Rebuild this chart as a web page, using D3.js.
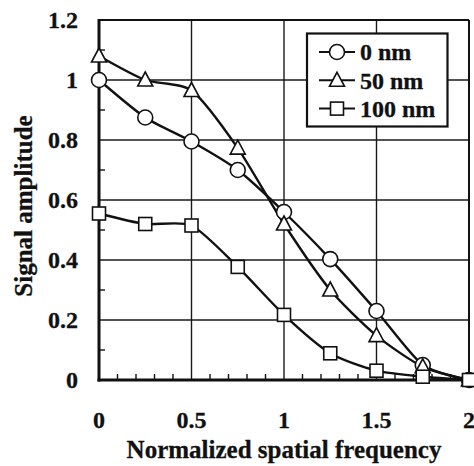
<!DOCTYPE html>
<html>
<head>
<meta charset="utf-8">
<script src="https://cdn.jsdelivr.net/npm/d3@7"></script>
<style>
  body { margin: 0; background: #fff; }
  svg { display: block; }
  text { font-family: "Liberation Serif", "Times New Roman", serif; font-weight: bold; fill: #111; stroke: #111; stroke-width: 0.3; }
</style>
</head>
<body>
<div id="chart"></div>
<script>
const width = 474;
const height = 466;

// spatial frequency (normalized)
const freqs = [0, 0.25, 0.5, 0.75, 1, 1.25, 1.5, 1.75, 2];
// signal amplitude for each thickness
const amp0 = [1.0, 0.875, 0.795, 0.70, 0.56, 0.403, 0.23, 0.05, 0.0];
const amp50 = [1.08, 1.0, 0.965, 0.773, 0.52, 0.30, 0.148, 0.044, 0.0];
const amp100 = [0.555, 0.52, 0.515, 0.377, 0.217, 0.089, 0.031, 0.011, 0.0];
const seriesNames = ["0 nm", "50 nm", "100 nm"];
const seriesShapes = ["circle", "triangle", "square"];
const xTickLabels = ["0", "0.5", "1", "1.5", "2"];
const yTickLabels = ["0", "0.2", "0.4", "0.6", "0.8", "1", "1.2"];

const series = [amp0, amp50, amp100].map((vals, i) => ({
  name: seriesNames[i],
  shape: seriesShapes[i],
  points: vals.map((v, j) => ({ x: freqs[j], y: v }))
}));

const margin = { top: 20, right: 5, bottom: 86, left: 99 };

const x = d3.scaleLinear().domain([0, 2]).range([margin.left, width - margin.right]);
const y = d3.scaleLinear().domain([0, 1.2]).range([height - margin.bottom, margin.top]);

const svg = d3.select("#chart").append("svg")
  .attr("width", width)
  .attr("height", height);

svg.append("rect").attr("width", width).attr("height", height).attr("fill", "#fff");

// grid
const grid = svg.append("g").attr("stroke", "#1a1a1a").attr("stroke-width", 1.4);
xTickLabels.map(Number).filter(d => d > 0 && d < 2).forEach(d => {
  grid.append("line")
    .attr("x1", x(d)).attr("x2", x(d))
    .attr("y1", y(0)).attr("y2", y(1.2));
});
yTickLabels.map(Number).filter(d => d > 0 && d < 1.2).forEach(d => {
  grid.append("line")
    .attr("x1", x(0)).attr("x2", x(2))
    .attr("y1", y(d)).attr("y2", y(d));
});

// minor ticks
const minor = svg.append("g").attr("stroke", "#111").attr("stroke-width", 1.4);
d3.range(1, 20).filter(i => i % 5 != 0).forEach(i => {
  minor.append("line")
    .attr("x1", x(i / 10)).attr("x2", x(i / 10))
    .attr("y1", y(0)).attr("y2", y(0) - 6);
});
d3.range(1, 12, 2).forEach(i => {
  minor.append("line")
    .attr("x1", x(0)).attr("x2", x(0) + 6)
    .attr("y1", y(i / 10)).attr("y2", y(i / 10));
});

// frame
svg.append("line").attr("x1", x(0)).attr("x2", x(2)).attr("y1", y(1.2)).attr("y2", y(1.2))
  .attr("stroke", "#111").attr("stroke-width", 2);
svg.append("line").attr("x1", x(2)).attr("x2", x(2)).attr("y1", y(1.2)).attr("y2", y(0))
  .attr("stroke", "#111").attr("stroke-width", 2);
svg.append("line").attr("x1", x(0)).attr("x2", x(0)).attr("y1", y(1.2) - 1).attr("y2", y(0) + 1.5)
  .attr("stroke", "#111").attr("stroke-width", 3);
svg.append("line").attr("x1", x(0) - 1.5).attr("x2", x(2)).attr("y1", y(0)).attr("y2", y(0))
  .attr("stroke", "#111").attr("stroke-width", 3);

// tick labels
svg.append("g").selectAll("text").data(yTickLabels).join("text")
  .attr("x", 78)
  .attr("y", d => y(+d))
  .attr("dy", "0.35em")
  .attr("text-anchor", "end")
  .attr("font-size", 24)
  .text(d => d);

svg.append("g").selectAll("text").data(xTickLabels).join("text")
  .attr("x", d => x(+d))
  .attr("y", 428)
  .attr("text-anchor", "middle")
  .attr("font-size", 24)
  .text(d => d);

// axis titles
svg.append("text")
  .attr("x", (x(0) + x(2)) / 2)
  .attr("y", 458)
  .attr("text-anchor", "middle")
  .attr("font-size", 25)
  .text("Normalized spatial frequency");

svg.append("text")
  .attr("transform", "translate(32,206) rotate(-90)")
  .attr("text-anchor", "middle")
  .attr("font-size", 25)
  .text("Signal amplitude");

// markers
function drawMarker(g, shape, cx, cy) {
  if (shape == "circle") {
    g.append("circle").attr("cx", cx).attr("cy", cy).attr("r", 7.5);
  } else if (shape == "triangle") {
    g.append("path").attr("d", `M${cx},${cy - 8}L${cx + 7.5},${cy + 6}L${cx - 7.5},${cy + 6}Z`);
  } else {
    g.append("rect").attr("x", cx - 6.5).attr("y", cy - 6.5).attr("width", 13).attr("height", 13);
  }
}

const line = d3.line()
  .x(d => x(d.x))
  .y(d => y(d.y))
  .curve(d3.curveCardinal.tension(0.3));

series.forEach(s => {
  svg.append("path")
    .attr("d", line(s.points))
    .attr("fill", "none")
    .attr("stroke", "#111")
    .attr("stroke-width", 2.4);
});

series.forEach(s => {
  const g = svg.append("g").attr("fill", "#fff").attr("stroke", "#111").attr("stroke-width", 1.6);
  s.points.forEach(p => drawMarker(g, s.shape, x(p.x), y(p.y)));
});

// legend
const legend = svg.append("g");
legend.append("rect")
  .attr("x", 307).attr("y", 33.5)
  .attr("width", 140.5).attr("height", 93)
  .attr("fill", "#fff").attr("stroke", "#111").attr("stroke-width", 2.2);

series.forEach((s, i) => {
  const ly = 52 + i * 28.3;
  legend.append("line")
    .attr("x1", 319).attr("x2", 355).attr("y1", ly).attr("y2", ly)
    .attr("stroke", "#111").attr("stroke-width", 2);
  const g = legend.append("g").attr("fill", "#fff").attr("stroke", "#111").attr("stroke-width", 1.6);
  drawMarker(g, s.shape, 337, ly);
  legend.append("text")
    .attr("x", 360).attr("y", ly)
    .attr("dy", "0.35em")
    .attr("font-size", 24)
    .text(s.name);
});
</script>
</body>
</html>
